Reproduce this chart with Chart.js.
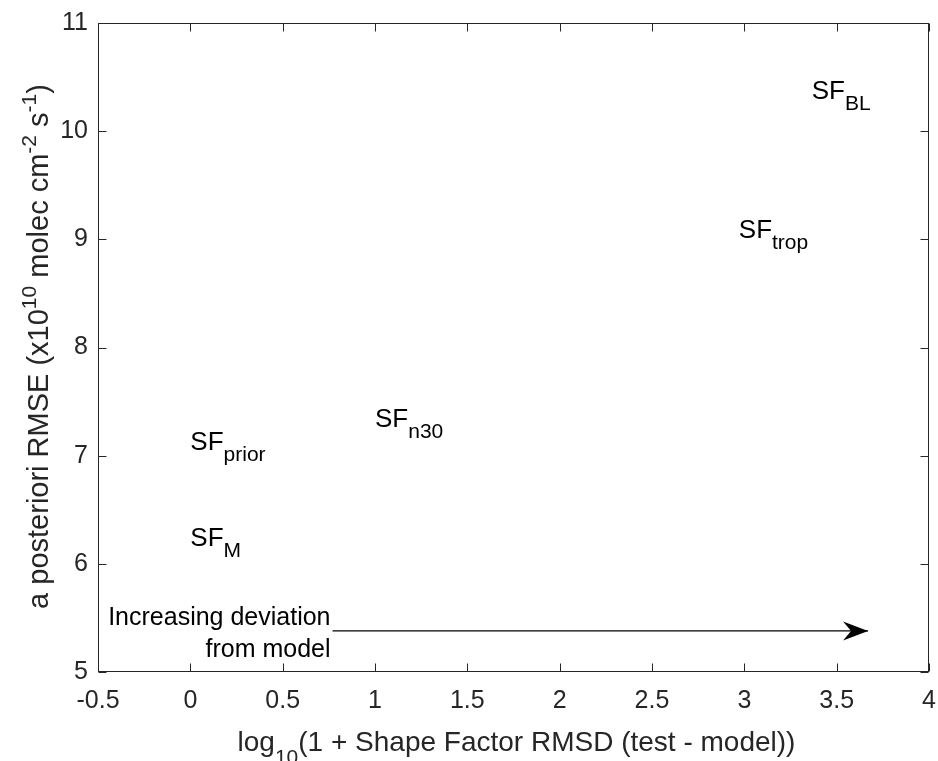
<!DOCTYPE html>
<html>
<head>
<meta charset="utf-8">
<script src="https://cdn.jsdelivr.net/npm/chart.js@4.4.0/dist/chart.umd.min.js"></script>
<style>
  html, body { margin: 0; padding: 0; background: #fff; }
  canvas { display: block; }
</style>
</head>
<body>
<canvas id="mychart" width="938" height="761"></canvas>
<script>
// axis ticks
const xTicks = [-0.5, 0, 0.5, 1, 1.5, 2, 2.5, 3, 3.5, 4];
const xTickLabels = ['-0.5', '0', '0.5', '1', '1.5', '2', '2.5', '3', '3.5', '4'];
const yTicks = [5, 6, 7, 8, 9, 10, 11];
const yTickLabels = ['5', '6', '7', '8', '9', '10', '11'];

// text markers (SF_xxx) placed at data positions
const sfSubs = ['prior', 'M', 'n30', 'trop', 'BL'];
const sfX = [0, 0, 1.0, 2.97, 3.365];
const sfY = [7.14, 6.25, 7.35, 9.1, 10.38];

// arrow
const arrowX = [0.77, 3.67];
const arrowY = [5.38, 5.38];
const arrowText = ['Increasing deviation', 'from model'];

const FONT = '"Liberation Sans", Arial, Helvetica, sans-serif';
const AXIS_COL = '#262626';

document.addEventListener("DOMContentLoaded", function () {
  const ctx = document.getElementById('mychart').getContext('2d');
  Chart.defaults.font.family = FONT;

  // draw text made of pieces with sub/superscripts, y = main baseline
  function richWidth(c, segs) {
    let w = 0;
    segs.forEach(s => { c.font = s.size + 'px ' + FONT; w += c.measureText(s.text).width; });
    return w;
  }
  function drawRich(c, segs, x, y) {
    c.textAlign = 'left';
    c.textBaseline = 'alphabetic';
    segs.forEach(s => {
      c.font = s.size + 'px ' + FONT;
      c.fillText(s.text, x, y + (s.dy || 0));
      x += c.measureText(s.text).width;
    });
  }

  const xTitle = [
    { text: 'log', size: 28 },
    { text: '10', size: 21, dy: 13 },
    { text: '(1 + Shape Factor RMSD (test - model))', size: 28 }
  ];
  const yTitle = [
    { text: 'a posteriori RMSE (x10', size: 29 },
    { text: '10', size: 21, dy: -12 },
    { text: ' molec cm', size: 29 },
    { text: '-2', size: 21, dy: -12 },
    { text: ' s', size: 29 },
    { text: '-1', size: 21, dy: -12 },
    { text: ')', size: 29 }
  ];

  const annot = {
    id: 'annot',
    beforeDraw(chart) {
      const c = chart.ctx;
      c.save();
      c.fillStyle = '#fff';
      c.fillRect(0, 0, chart.width, chart.height);
      c.restore();
    },
    afterDraw(chart) {
      const c = chart.ctx;
      const a = chart.chartArea;
      const xs = chart.scales.x, ys = chart.scales.y;
      c.save();

      // box + inward ticks
      c.strokeStyle = AXIS_COL;
      c.lineWidth = 1;
      const L = Math.round(a.left) + 0.5, R = Math.round(a.right) - 0.5;
      const T = Math.round(a.top) + 0.5, B = Math.round(a.bottom) - 0.5;
      c.strokeRect(L, T, R - L, B - T);
      const tl = 8;
      c.beginPath();
      xTicks.forEach(v => {
        const px = Math.round(xs.getPixelForValue(v)) + 0.5;
        c.moveTo(px, B); c.lineTo(px, B - tl);
        c.moveTo(px, T); c.lineTo(px, T + tl);
      });
      yTicks.forEach(v => {
        const py = Math.round(ys.getPixelForValue(v)) + 0.5;
        c.moveTo(L, py); c.lineTo(L + tl, py);
        c.moveTo(R, py); c.lineTo(R - tl, py);
      });
      c.stroke();

      // SF labels
      c.fillStyle = '#000';
      const lab = chart.getDatasetMeta(0).data;
      lab.forEach((p, i) => {
        drawRich(c, [
          { text: 'SF', size: 26 },
          { text: sfSubs[i], size: 21, dy: 11 }
        ], p.x, p.y + 0.36 * 26);
      });

      // arrow head + caption
      const ar = chart.getDatasetMeta(1).data;
      const p0 = ar[0], p1 = ar[ar.length - 1];
      const ang = Math.atan2(p1.y - p0.y, p1.x - p0.x);
      c.save();
      c.translate(p1.x, p1.y);
      c.rotate(ang);
      c.beginPath();
      c.moveTo(0, 0);
      c.lineTo(-25, -9.5);
      c.lineTo(-17, 0);
      c.lineTo(-25, 9.5);
      c.closePath();
      c.fill();
      c.restore();

      c.font = '25px ' + FONT;
      c.textAlign = 'right';
      c.textBaseline = 'alphabetic';
      c.fillText(arrowText[0], p0.x - 2, p0.y - 6);
      c.fillText(arrowText[1], p0.x - 2, p0.y + 26);

      // axis titles
      c.fillStyle = AXIS_COL;
      const cx = (a.left + a.right) / 2 + 3;
      const wx = richWidth(c, xTitle);
      drawRich(c, xTitle, cx - wx / 2, 751);

      const cy = (a.top + a.bottom) / 2 - 1;
      const wy = richWidth(c, yTitle);
      c.translate(48, cy);
      c.rotate(-Math.PI / 2);
      drawRich(c, yTitle, -wy / 2, 0);

      c.restore();
    }
  };

  const myChart = new Chart(ctx, {
    type: 'scatter',
    data: {
      datasets: [{
        label: 'SF labels',
        data: sfX.map((x, i) => ({ x: x, y: sfY[i] })),
        pointRadius: 0,
        showLine: false
      }, {
        label: 'arrow',
        data: arrowX.map((x, i) => ({ x: x, y: arrowY[i] })),
        showLine: true,
        borderColor: '#000',
        borderWidth: 1.3,
        pointRadius: 0,
        fill: false
      }]
    },
    options: {
      responsive: false,
      devicePixelRatio: 1,
      animation: false,
      events: [],
      layout: { padding: { top: 23, right: 9, left: 0, bottom: 0 } },
      plugins: {
        legend: { display: false },
        tooltip: { enabled: false }
      },
      scales: {
        x: {
          type: 'linear',
          position: 'bottom',
          min: -0.5,
          max: 4,
          afterBuildTicks: s => { s.ticks = xTicks.map(v => ({ value: v })); },
          afterFit: s => { s.height = 89; s.paddingLeft = 0; s.paddingRight = 0; },
          grid: { display: false, drawTicks: false },
          border: { display: false },
          ticks: {
            color: AXIS_COL,
            font: { size: 25 },
            padding: 14,
            maxRotation: 0,
            autoSkip: false,
            callback: (v, i) => xTickLabels[i]
          }
        },
        y: {
          type: 'linear',
          position: 'left',
          min: 5,
          max: 11,
          afterBuildTicks: s => { s.ticks = yTicks.map(v => ({ value: v })); },
          afterFit: s => { s.width = 98; s.paddingTop = 0; s.paddingBottom = 0; },
          grid: { display: false, drawTicks: false },
          border: { display: false },
          ticks: {
            color: AXIS_COL,
            font: { size: 25 },
            padding: 10,
            autoSkip: false,
            callback: (v, i) => yTickLabels[i]
          }
        }
      }
    },
    plugins: [annot]
  });
});
</script>
</body>
</html>
